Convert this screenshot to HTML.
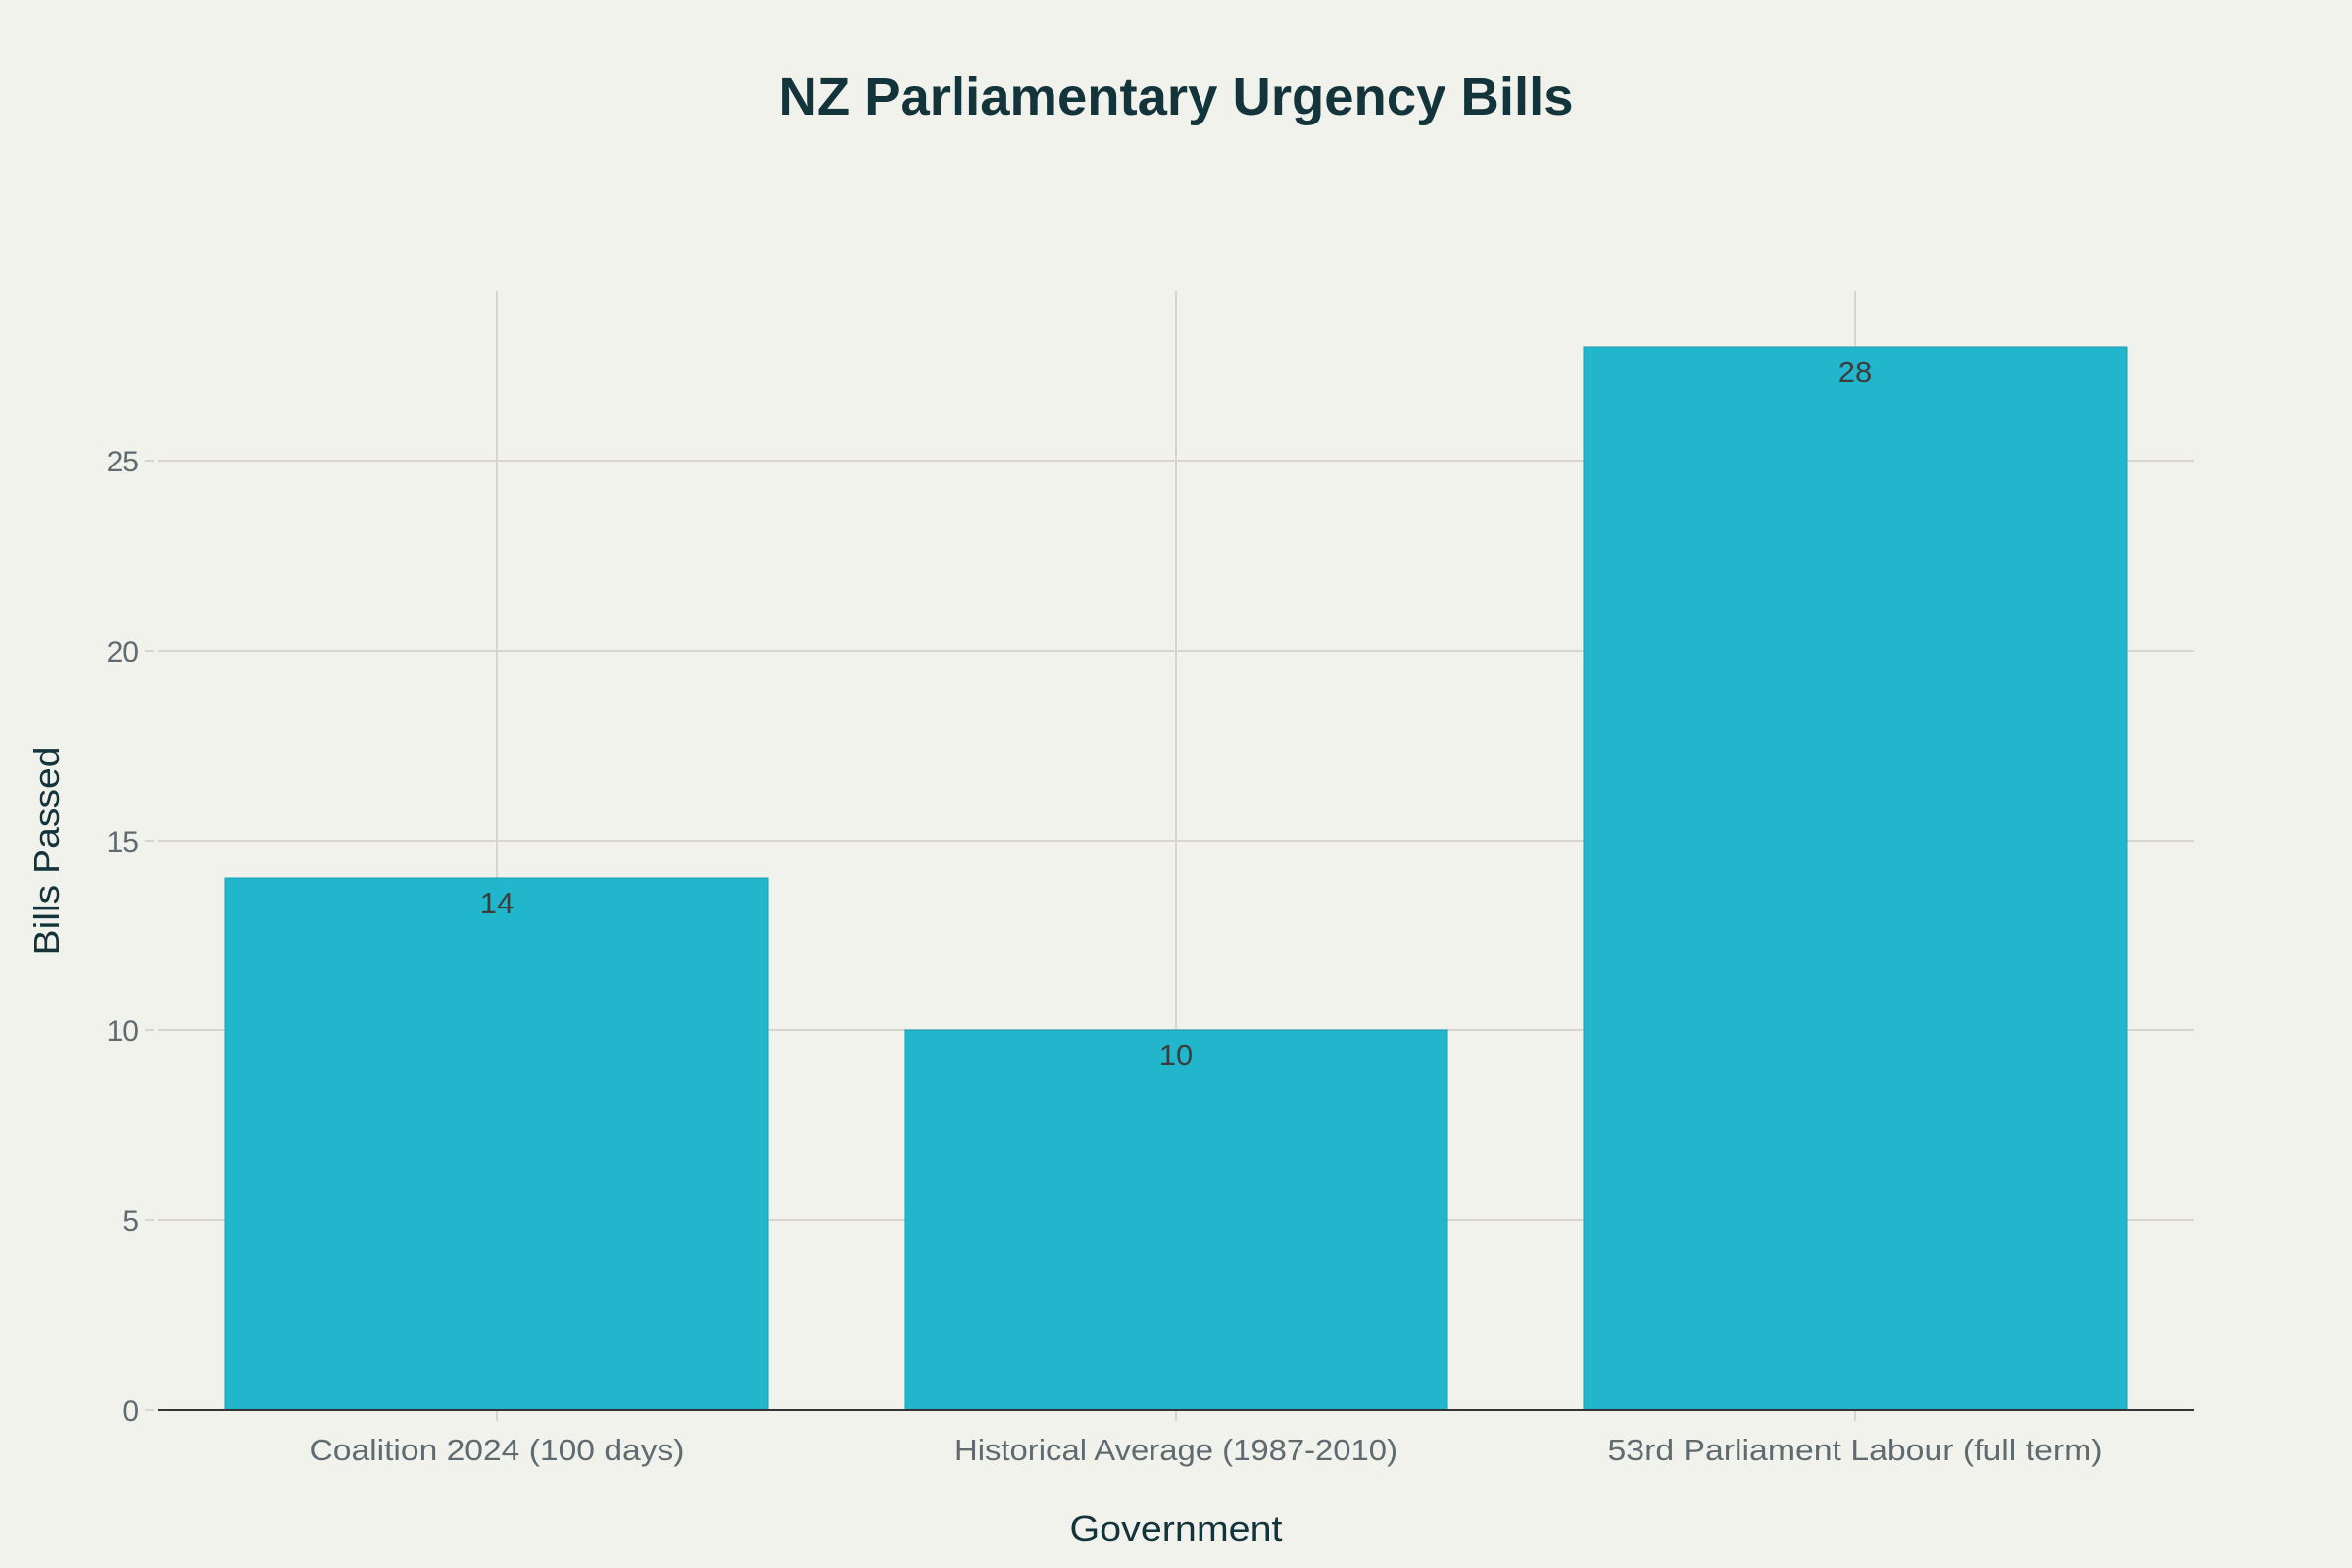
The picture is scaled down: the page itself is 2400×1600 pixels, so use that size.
<!DOCTYPE html>
<html><head><meta charset="utf-8"><style>
html,body{margin:0;padding:0;background:#f2f2ed;}
svg{display:block;}
text{font-family:"Liberation Sans",sans-serif;}
</style></head><body>
<svg width="2400" height="1600" viewBox="0 0 2400 1600" xmlns="http://www.w3.org/2000/svg">
<rect width="2400" height="1600" fill="#f2f2ed"/>
<text x="1200" y="117" text-anchor="middle" font-size="54" font-weight="bold" fill="#13343b" textLength="811" lengthAdjust="spacingAndGlyphs">NZ Parliamentary Urgency Bills</text>
<g stroke="#d8d4d0" stroke-width="2">
<line x1="161" x2="2239" y1="1245" y2="1245"/>
<line x1="161" x2="2239" y1="1051" y2="1051"/>
<line x1="161" x2="2239" y1="858" y2="858"/>
<line x1="161" x2="2239" y1="664" y2="664"/>
<line x1="161" x2="2239" y1="470" y2="470"/>
<line x1="507" x2="507" y1="297" y2="1450"/>
<line x1="1200" x2="1200" y1="297" y2="1450"/>
<line x1="1893" x2="1893" y1="297" y2="1450"/>
<line x1="148" x2="157" y1="1245" y2="1245"/>
<line x1="148" x2="157" y1="1051" y2="1051"/>
<line x1="148" x2="157" y1="858" y2="858"/>
<line x1="148" x2="157" y1="664" y2="664"/>
<line x1="148" x2="157" y1="470" y2="470"/>
<line x1="148" x2="157" y1="1439" y2="1439"/>
</g>
<g fill="#21b6cc" stroke="#1a9fb2" stroke-width="1">
<rect x="230" y="896" width="554" height="543"/>
<rect x="923" y="1051" width="554" height="388"/>
<rect x="1616" y="354" width="554" height="1085"/>
</g>
<line x1="161" x2="2239" y1="1439" y2="1439" stroke="#333" stroke-width="2"/>
<g font-size="31" fill="#3d3d3d" text-anchor="middle">
<text x="507" y="932">14</text>
<text x="1200" y="1087">10</text>
<text x="1893" y="390">28</text>
</g>
<g font-size="30" fill="#5f6b70" text-anchor="end">
<text x="142" y="1450">0</text>
<text x="142" y="1256">5</text>
<text x="142" y="1062">10</text>
<text x="142" y="869">15</text>
<text x="142" y="675">20</text>
<text x="142" y="481">25</text>
</g>
<g font-size="31" fill="#5f6b70" text-anchor="middle" lengthAdjust="spacingAndGlyphs">
<text x="507" y="1490" textLength="383" lengthAdjust="spacingAndGlyphs">Coalition 2024 (100 days)</text>
<text x="1200" y="1490" textLength="452" lengthAdjust="spacingAndGlyphs">Historical Average (1987-2010)</text>
<text x="1893" y="1490" textLength="505" lengthAdjust="spacingAndGlyphs">53rd Parliament Labour (full term)</text>
</g>
<text x="1200" y="1572" text-anchor="middle" font-size="36" fill="#13343b" textLength="217" lengthAdjust="spacingAndGlyphs">Government</text>
<text transform="translate(60,868) rotate(-90)" text-anchor="middle" font-size="36" fill="#13343b" textLength="213" lengthAdjust="spacingAndGlyphs">Bills Passed</text>
</svg>
</body></html>
